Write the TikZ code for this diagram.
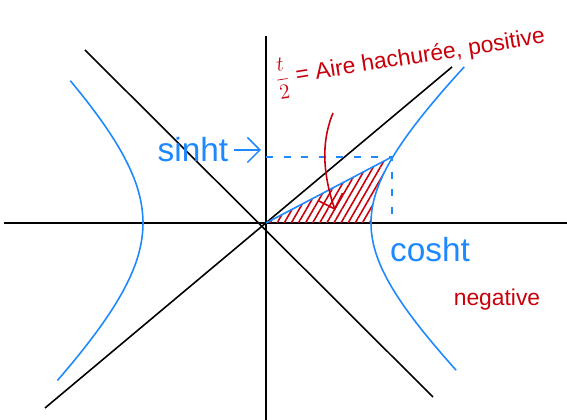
\documentclass[tikz,border=0pt]{standalone}
\usepackage{fontspec}
\setmainfont{Liberation Sans}
\usetikzlibrary{arrows.meta, patterns.meta, positioning}
\definecolor{inkblue}{RGB}{30,136,255}
\definecolor{inkred}{RGB}{200,0,10}

\begin{document}
\begin{tikzpicture}[
    axis/.style={black, line width=0.9pt},
    curve/.style={inkblue, line width=0.9pt},
    guide/.style={inkblue, line width=0.9pt, dash pattern=on 4pt off 6pt},
    bluetext/.style={inkblue, font=\fontsize{19}{22}\selectfont},
    redtext/.style={inkred, font=\fontsize{13}{16}\selectfont},
    arrow/.style={-{Straight Barb[length=2.5mm]}, line width=0.9pt}
]
\useasboundingbox (-5.32,-3.94) rectangle (6.02,4.46);

% axes and asymptotes
\coordinate (O) at (0,0);
\draw[axis] (-5.24,0) -- (6.02,0);
\draw[axis] (0,-3.94) -- (0,3.74);
\draw[axis] (-3.62,3.46) -- (3.34,-3.48);
\draw[axis] (-4.42,-3.7) -- (3.72,3.12);

% point (cosh t, sinh t)
\coordinate (P) at ({2.1*cosh(0.62)},{2*sinh(0.62)});
\coordinate (Py) at (0,{2*sinh(0.62)});
\coordinate (Px) at ({2.1*cosh(0.62)},0);

\fill[pattern={Lines[angle=60,distance=3.5pt,line width=0.9pt]}, pattern color=inkred]
    (O) -- (P) -- plot[domain=0.62:0, samples=20] ({2.1*cosh(\x)},{2*sinh(\x)}) -- cycle;

% both branches
\draw[curve] plot[domain=-1.2:1.25, samples=60] ({2.1*cosh(\x)},{1.95*sinh(\x)});
\draw[curve] plot[domain=-1.12:1.04, samples=60] ({-2.46*cosh(\x)},{2.3*sinh(\x)});
\draw[curve] (O) -- (P);
\draw[guide] (Py) -- (P) -- (Px);

% labels
\node[bluetext] (sinh) at (-1.46,1.46) {sinht};
\coordinate[left=0.1cm of Py] (Pyl);
\draw[arrow, inkblue] (sinh.east) -- (sinh.east -| Pyl);
\node[bluetext] (cosh) at (3.28,-0.54) {cosht};
\node[redtext] (neg) at (4.62,-1.54) {negative};
\node[redtext, rotate=9] (area) at (2.88,3.3) {$\displaystyle\frac{t}{2}$ = Aire hachurée, positive};

\coordinate (callout) at (1.34,2.2);
\coordinate (hatch) at (1.38,0.26);
\draw[arrow, inkred] (callout) .. controls (1.05,1.5) and (1.2,0.8) .. (hatch);
\end{tikzpicture}
\end{document}
